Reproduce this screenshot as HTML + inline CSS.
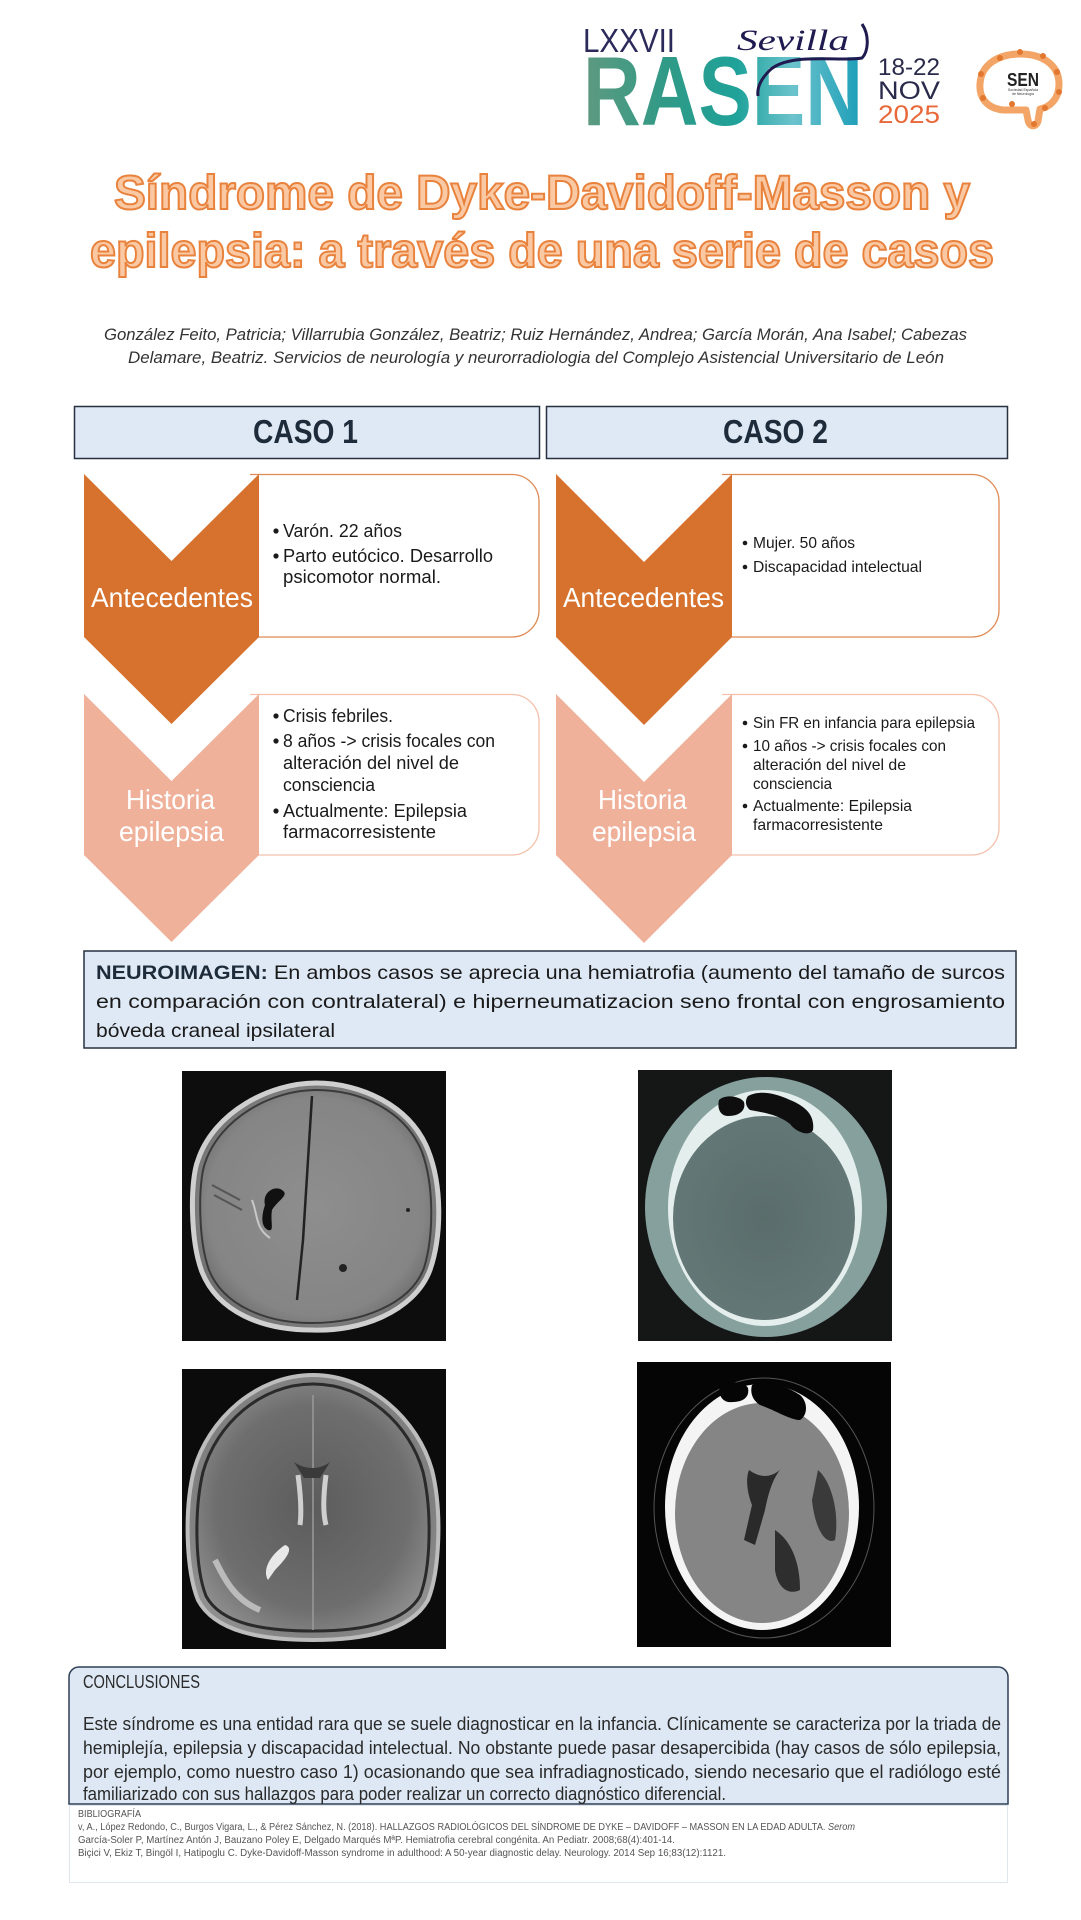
<!DOCTYPE html>
<html>
<head>
<meta charset="utf-8">
<style>
html,body{margin:0;padding:0;background:#fff;}
svg{display:block;}
text{font-family:"Liberation Sans",sans-serif;}
</style>
</head>
<body>
<svg width="1081" height="1920" viewBox="0 0 1081 1920" xmlns="http://www.w3.org/2000/svg">
<defs>
  <linearGradient id="rasen" x1="0" y1="0" x2="1" y2="0">
    <stop offset="0" stop-color="#5f9a80"/>
    <stop offset="0.3" stop-color="#2f9a86"/>
    <stop offset="0.55" stop-color="#1fa29a"/>
    <stop offset="0.75" stop-color="#6cc3cc"/>
    <stop offset="1" stop-color="#1a9db8"/>
  </linearGradient>
  <radialGradient id="flair" cx="0.5" cy="0.5" r="0.55">
    <stop offset="0" stop-color="#8e8e8e"/>
    <stop offset="0.8" stop-color="#858585"/>
    <stop offset="1" stop-color="#6a6a6a"/>
  </radialGradient>
  <radialGradient id="t2" cx="0.5" cy="0.5" r="0.55">
    <stop offset="0" stop-color="#5c5c5c"/>
    <stop offset="0.7" stop-color="#6e6e6e"/>
    <stop offset="1" stop-color="#8f8f8f"/>
  </radialGradient>
  <radialGradient id="ctb" cx="0.5" cy="0.5" r="0.55">
    <stop offset="0" stop-color="#5a6d6c"/>
    <stop offset="1" stop-color="#647877"/>
  </radialGradient>
</defs>

<!-- ===== LOGO ===== -->
<text x="583" y="52" font-size="33" fill="#2b2a5a" textLength="92" lengthAdjust="spacingAndGlyphs" style="font-weight:300">LXXVII</text>
<text x="583" y="125" font-size="98" font-weight="bold" fill="url(#rasen)" textLength="280" lengthAdjust="spacingAndGlyphs">RASEN</text>
<text x="737" y="50" font-size="30" font-style="italic" fill="#1f1a4f" textLength="112" lengthAdjust="spacingAndGlyphs" style="font-family:'Liberation Serif',serif">Sevilla</text>
<path d="M862,24 C870,36 868,52 862,58 C840,62 790,52 770,70 C760,80 757,88 758,96" fill="none" stroke="#1f1a4f" stroke-width="3"/>
<text x="878" y="75" font-size="24" fill="#2a2a4a" textLength="62" lengthAdjust="spacingAndGlyphs">18-22</text>
<text x="878" y="99" font-size="25" fill="#2a2a4a" textLength="62" lengthAdjust="spacingAndGlyphs">NOV</text>
<text x="878" y="123" font-size="25" fill="#e8683a" textLength="62" lengthAdjust="spacingAndGlyphs">2025</text>
<!-- SEN -->
<path d="M1003,110 C986,108 979,97 980,84 C981,64 999,54 1020,54 C1044,54 1059,66 1059,84 C1059,99 1050,107 1040,109 L1038,121 C1036,128 1029,127 1028,120 L1026,110 Z" fill="#fff" stroke="#f2a566" stroke-width="7" stroke-linejoin="round"/>
<g fill="#e2772f">
<circle cx="1000" cy="58" r="3"/><circle cx="1020" cy="52" r="3"/><circle cx="1043" cy="56" r="3"/><circle cx="1057" cy="72" r="3"/><circle cx="1059" cy="92" r="3"/><circle cx="1045" cy="108" r="3"/><circle cx="1034" cy="124" r="3"/><circle cx="1012" cy="104" r="3"/><circle cx="983" cy="98" r="3"/><circle cx="981" cy="74" r="3"/>
</g>
<text x="1023" y="86" font-size="18" font-weight="bold" fill="#222" text-anchor="middle" textLength="32" lengthAdjust="spacingAndGlyphs">SEN</text>
<text x="1023" y="91" font-size="3.5" fill="#333" text-anchor="middle">Sociedad Española</text>
<text x="1023" y="95" font-size="3.5" fill="#333" text-anchor="middle">de Neurología</text>

<!-- ===== TITLE ===== -->
<g font-weight="bold" font-size="48" fill="#fac9a4" stroke="#e8823c" stroke-width="2">
<text x="114" y="209" textLength="856" lengthAdjust="spacingAndGlyphs">Síndrome de Dyke-Davidoff-Masson y</text>
<text x="90" y="267" textLength="904" lengthAdjust="spacingAndGlyphs">epilepsia: a través de una serie de casos</text>
</g>

<!-- ===== AUTHORS ===== -->
<g font-size="17" font-style="italic" fill="#333">
<text x="104" y="340" textLength="863" lengthAdjust="spacingAndGlyphs">González Feito, Patricia; Villarrubia González, Beatriz; Ruiz Hernández, Andrea; García Morán, Ana Isabel; Cabezas</text>
<text x="128" y="363" textLength="816" lengthAdjust="spacingAndGlyphs">Delamare, Beatriz. Servicios de neurología y neurorradiologia del Complejo Asistencial Universitario de León</text>
</g>

<!-- ===== CASO HEADERS ===== -->
<rect x="74.5" y="406.5" width="465" height="52" fill="#dfe9f5" stroke="#27313f" stroke-width="1.5"/>
<rect x="546.5" y="406.5" width="461" height="52" fill="#dfe9f5" stroke="#27313f" stroke-width="1.5"/>
<text x="253" y="443" font-size="33" font-weight="bold" fill="#1e2b3a" textLength="105" lengthAdjust="spacingAndGlyphs">CASO 1</text>
<text x="723" y="443" font-size="33" font-weight="bold" fill="#1e2b3a" textLength="105" lengthAdjust="spacingAndGlyphs">CASO 2</text>

<!-- ===== CASE 1 ===== -->
<path d="M250,474.5 H512 A27,27 0 0 1 539,501.5 V610 A27,27 0 0 1 512,637 H250" fill="#fff" stroke="#df8a55" stroke-width="1.3"/>
<path d="M250,694.5 H512 A27,27 0 0 1 539,721.5 V828 A27,27 0 0 1 512,855 H250" fill="#fff" stroke="#f3c0aa" stroke-width="1.3"/>
<path d="M84,474 L171.5,561 L259,474 L259,637 L171.5,724 L84,637 Z" fill="#d6722e"/>
<path d="M84,694 L171.5,781 L259,694 L259,855 L171.5,942 L84,855 Z" fill="#f0b19b"/>
<g fill="#fff" font-size="28">
<text x="91" y="607" textLength="162" lengthAdjust="spacingAndGlyphs">Antecedentes</text>
<text x="126" y="809" textLength="89" lengthAdjust="spacingAndGlyphs">Historia</text>
<text x="119" y="841" textLength="105" lengthAdjust="spacingAndGlyphs">epilepsia</text>
</g>
<g fill="#1a1a1a" font-size="18">
<circle cx="276" cy="531" r="2.6"/><circle cx="276" cy="556" r="2.6"/>
<text x="283" y="537" textLength="119" lengthAdjust="spacingAndGlyphs">Varón. 22 años</text>
<text x="283" y="562" textLength="210" lengthAdjust="spacingAndGlyphs">Parto eutócico. Desarrollo</text>
<text x="283" y="583" textLength="158" lengthAdjust="spacingAndGlyphs">psicomotor normal.</text>
<circle cx="276" cy="716" r="2.6"/><circle cx="276" cy="741" r="2.6"/><circle cx="276" cy="811" r="2.6"/>
<text x="283" y="722" textLength="110" lengthAdjust="spacingAndGlyphs">Crisis febriles.</text>
<text x="283" y="747" textLength="212" lengthAdjust="spacingAndGlyphs">8 años -&gt; crisis focales con</text>
<text x="283" y="769" textLength="176" lengthAdjust="spacingAndGlyphs">alteración del nivel de</text>
<text x="283" y="791" textLength="92" lengthAdjust="spacingAndGlyphs">consciencia</text>
<text x="283" y="817" textLength="184" lengthAdjust="spacingAndGlyphs">Actualmente: Epilepsia</text>
<text x="283" y="838" textLength="153" lengthAdjust="spacingAndGlyphs">farmacorresistente</text>
</g>

<!-- ===== CASE 2 ===== -->
<path d="M722,474.5 H972 A27,27 0 0 1 999,501.5 V610 A27,27 0 0 1 972,637 H722" fill="#fff" stroke="#df8a55" stroke-width="1.3"/>
<path d="M722,694.5 H972 A27,27 0 0 1 999,721.5 V828 A27,27 0 0 1 972,855 H722" fill="#fff" stroke="#f3c0aa" stroke-width="1.3"/>
<path d="M556,474 L644,562 L732,474 L732,637 L644,725 L556,637 Z" fill="#d6722e"/>
<path d="M556,694 L644,782 L732,694 L732,855 L644,943 L556,855 Z" fill="#f0b19b"/>
<g fill="#fff" font-size="28">
<text x="563" y="607" textLength="161" lengthAdjust="spacingAndGlyphs">Antecedentes</text>
<text x="598" y="809" textLength="89" lengthAdjust="spacingAndGlyphs">Historia</text>
<text x="592" y="841" textLength="104" lengthAdjust="spacingAndGlyphs">epilepsia</text>
</g>
<g fill="#1a1a1a" font-size="16">
<circle cx="745" cy="543" r="2.3"/><circle cx="745" cy="567" r="2.3"/>
<text x="753" y="548" textLength="102" lengthAdjust="spacingAndGlyphs">Mujer. 50 años</text>
<text x="753" y="572" textLength="169" lengthAdjust="spacingAndGlyphs">Discapacidad intelectual</text>
<circle cx="745" cy="723" r="2.3"/><circle cx="745" cy="746" r="2.3"/><circle cx="745" cy="806" r="2.3"/>
<text x="753" y="728" textLength="222" lengthAdjust="spacingAndGlyphs">Sin FR en infancia para epilepsia</text>
<text x="753" y="751" textLength="193" lengthAdjust="spacingAndGlyphs">10 años -&gt; crisis focales con</text>
<text x="753" y="770" textLength="153" lengthAdjust="spacingAndGlyphs">alteración del nivel de</text>
<text x="753" y="789" textLength="79" lengthAdjust="spacingAndGlyphs">consciencia</text>
<text x="753" y="811" textLength="159" lengthAdjust="spacingAndGlyphs">Actualmente: Epilepsia</text>
<text x="753" y="830" textLength="130" lengthAdjust="spacingAndGlyphs">farmacorresistente</text>
</g>

<!-- ===== NEUROIMAGEN ===== -->
<rect x="84" y="951" width="932" height="97" fill="#dfe9f5" stroke="#27313f" stroke-width="1.5"/>
<g font-size="19.5" fill="#1a1a1a">
<text x="96" y="979" textLength="909" lengthAdjust="spacingAndGlyphs"><tspan font-weight="bold" fill="#1e2b3a">NEUROIMAGEN:</tspan> En ambos casos se aprecia una hemiatrofia (aumento del tamaño de surcos</text>
<text x="96" y="1008" textLength="909" lengthAdjust="spacingAndGlyphs">en comparación con contralateral) e hiperneumatizacion seno frontal con engrosamiento</text>
<text x="96" y="1037" textLength="239" lengthAdjust="spacingAndGlyphs">bóveda craneal ipsilateral</text>
</g>

<!-- ===== IMAGE 1 (FLAIR) ===== -->
<rect x="182" y="1071" width="264" height="270" fill="#0d0d0d"/>
<path d="M316,1083 C360,1083 410,1105 428,1150 C442,1185 442,1235 430,1270 C414,1312 360,1332 312,1330 C262,1330 218,1312 202,1272 C190,1240 190,1180 198,1160 C214,1112 270,1083 316,1083 Z" fill="url(#flair)" stroke="#cfcfcf" stroke-width="5"/>
<path d="M316,1090 C360,1090 405,1110 422,1152 C434,1185 434,1235 424,1268 C410,1305 360,1323 312,1323 C265,1323 223,1305 209,1270 C198,1240 198,1182 205,1163 C220,1118 272,1090 316,1090 Z" fill="none" stroke="#3a3a3a" stroke-width="2"/>
<path d="M312,1096 L308,1160 L303,1240 L297,1300" stroke="#222" stroke-width="2.5" fill="none"/>
<path d="M265,1205 C262,1192 275,1185 282,1190 C290,1195 278,1200 272,1210 C270,1222 275,1232 268,1230 C260,1226 262,1214 265,1205 Z" fill="#111"/>
<path d="M252,1200 C258,1215 255,1228 270,1238" stroke="#c8c8c8" stroke-width="2" fill="none"/>
<path d="M212,1185 L240,1200 M214,1195 L242,1210" stroke="#555" stroke-width="2"/>
<circle cx="343" cy="1268" r="4" fill="#222"/>
<circle cx="408" cy="1210" r="2" fill="#222"/>

<!-- ===== IMAGE 2 (CT bone) ===== -->
<rect x="638" y="1070" width="254" height="271" fill="#151717"/>
<ellipse cx="766" cy="1207" rx="121" ry="130" fill="#86a09d"/>
<ellipse cx="765" cy="1208" rx="97" ry="118" fill="#e4eeec"/>
<ellipse cx="764" cy="1218" rx="91" ry="102" fill="url(#ctb)"/>
<path d="M719,1100 C725,1094 740,1096 744,1102 C746,1110 740,1116 728,1116 C720,1116 717,1108 719,1100 Z" fill="#0e0e0e"/>
<path d="M748,1096 C760,1090 775,1093 790,1100 C805,1106 815,1115 813,1130 C810,1136 798,1134 790,1124 C778,1114 760,1112 750,1110 C745,1106 745,1100 748,1096 Z" fill="#0e0e0e"/>

<!-- ===== IMAGE 3 (T2) ===== -->
<rect x="182" y="1369" width="264" height="280" fill="#0b0b0b"/>
<path d="M313,1375 C370,1375 418,1420 432,1470 C442,1510 440,1570 428,1600 C410,1632 360,1640 313,1640 C262,1640 215,1632 198,1600 C186,1570 184,1510 194,1470 C208,1420 256,1375 313,1375 Z" fill="url(#t2)" stroke="#bdbdbd" stroke-width="4"/>
<path d="M313,1384 C366,1384 410,1425 423,1472 C432,1510 431,1568 420,1596 C404,1624 358,1631 313,1631 C264,1631 221,1624 206,1596 C195,1568 194,1510 203,1472 C216,1425 260,1384 313,1384 Z" fill="none" stroke="#2a2a2a" stroke-width="3"/>
<path d="M313,1395 L313,1630" stroke="#9a9a9a" stroke-width="1.5"/>
<path d="M298,1475 C300,1490 302,1510 300,1525 M326,1475 C324,1490 322,1510 326,1525" stroke="#cfcfcf" stroke-width="5" fill="none"/>
<path d="M275,1570 C285,1560 295,1548 285,1545 C270,1555 262,1570 268,1580 Z" fill="#e8e8e8"/>
<path d="M215,1560 C225,1580 235,1600 260,1610" stroke="#cccccc" stroke-width="6" fill="none" opacity="0.8"/>
<path d="M294,1462 C305,1470 320,1470 330,1462 L320,1478 L304,1478 Z" fill="#3a3a3a"/>

<!-- ===== IMAGE 4 (CT) ===== -->
<rect x="637" y="1362" width="254" height="285" fill="#050505"/>
<ellipse cx="764" cy="1508" rx="110" ry="130" fill="none" stroke="#555" stroke-width="1"/>
<ellipse cx="762" cy="1507" rx="97" ry="123" fill="#f4f4f4"/>
<ellipse cx="762" cy="1513" rx="87" ry="110" fill="#858585"/>
<path d="M720,1385 C728,1380 745,1382 748,1388 C750,1398 742,1403 728,1402 C720,1400 718,1392 720,1385 Z" fill="#050505"/>
<path d="M752,1385 C765,1380 785,1385 800,1395 C808,1402 808,1415 800,1420 C790,1420 775,1410 760,1405 C752,1400 750,1392 752,1385 Z" fill="#050505"/>
<path d="M749,1470 C745,1480 748,1495 752,1505 L744,1540 L755,1545 L765,1510 C768,1495 772,1480 780,1470 C770,1478 760,1478 749,1470 Z" fill="#2a2a2a"/>
<path d="M775,1530 C790,1540 800,1560 800,1590 C790,1595 778,1590 775,1570 Z" fill="#2e2e2e"/>
<path d="M818,1470 C830,1480 840,1510 835,1540 C826,1545 815,1530 812,1500 Z" fill="#3a3a3a"/>

<!-- ===== CONCLUSIONES ===== -->
<path d="M69,1804 V1677 A10,10 0 0 1 79,1667 H998 A10,10 0 0 1 1008,1677 V1804 Z" fill="#dde8f4" stroke="#2f3f55" stroke-width="1.5"/>
<g font-size="18" fill="#2a2a2a">
<text x="83" y="1688" textLength="117" lengthAdjust="spacingAndGlyphs">CONCLUSIONES</text>
<text x="83" y="1730" textLength="918" lengthAdjust="spacingAndGlyphs">Este síndrome es una entidad rara que se suele diagnosticar en la infancia. Clínicamente se caracteriza por la triada de</text>
<text x="83" y="1754" textLength="918" lengthAdjust="spacingAndGlyphs">hemiplejía, epilepsia y discapacidad intelectual. No obstante puede pasar desapercibida (hay casos de sólo epilepsia,</text>
<text x="83" y="1778" textLength="918" lengthAdjust="spacingAndGlyphs">por ejemplo, como nuestro caso 1) ocasionando que sea infradiagnosticado, siendo necesario que el radiólogo esté</text>
<text x="83" y="1800" textLength="643" lengthAdjust="spacingAndGlyphs">familiarizado con sus hallazgos para poder realizar un correcto diagnóstico diferencial.</text>
</g>

<!-- ===== BIBLIOGRAFIA ===== -->
<rect x="69.5" y="1805.5" width="938" height="77" fill="#fff" stroke="#dfe6ee" stroke-width="1"/>
<g font-size="10" fill="#555">
<text x="78" y="1817" textLength="63" lengthAdjust="spacingAndGlyphs">BIBLIOGRAFÍA</text>
<text x="78" y="1830" textLength="777" lengthAdjust="spacingAndGlyphs">v, A., López Redondo, C., Burgos Vigara, L., &amp; Pérez Sánchez, N. (2018). HALLAZGOS RADIOLÓGICOS DEL SÍNDROME DE DYKE – DAVIDOFF – MASSON EN LA EDAD ADULTA. <tspan font-style="italic">Serom</tspan></text>
<text x="78" y="1843" textLength="597" lengthAdjust="spacingAndGlyphs">García-Soler P, Martínez Antón J, Bauzano Poley E, Delgado Marqués MªP. Hemiatrofia cerebral congénita. An Pediatr. 2008;68(4):401-14.</text>
<text x="78" y="1856" textLength="648" lengthAdjust="spacingAndGlyphs">Biçici V, Ekiz T, Bingöl I, Hatipoglu C. Dyke-Davidoff-Masson syndrome in adulthood: A 50-year diagnostic delay. Neurology. 2014 Sep 16;83(12):1121.</text>
</g>
</svg>
</body>
</html>
